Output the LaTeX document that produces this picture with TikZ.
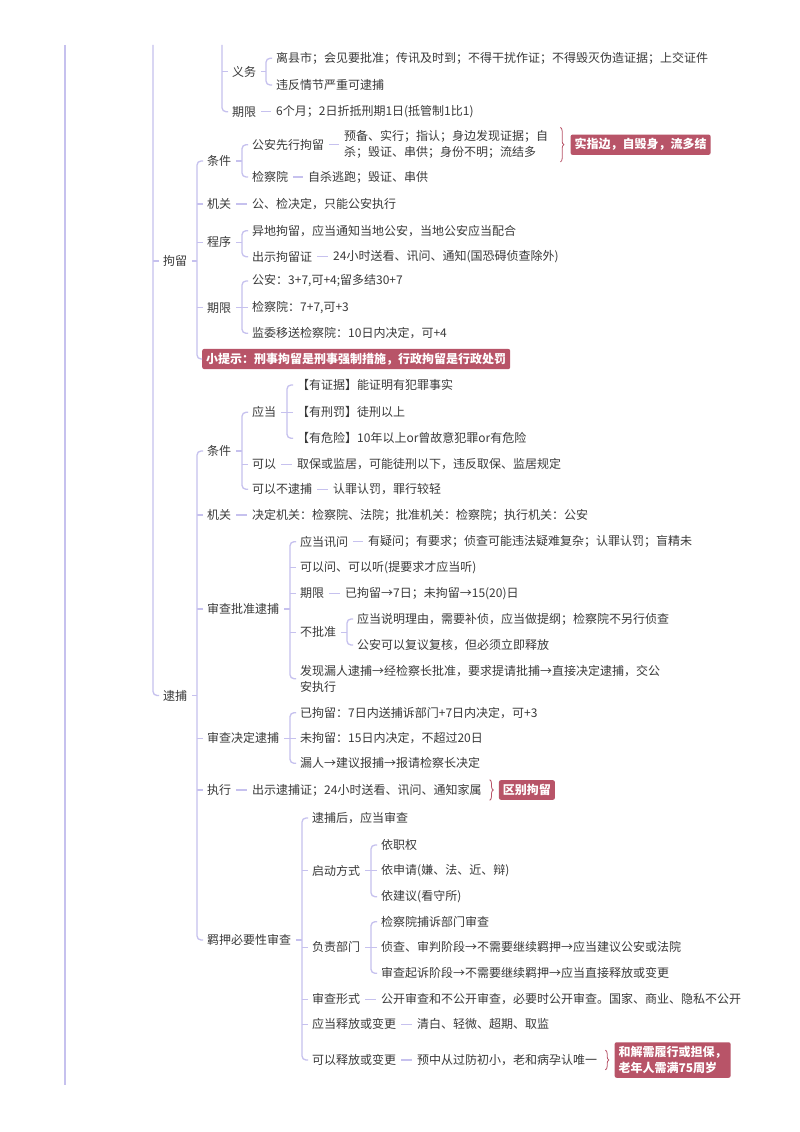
\documentclass[tikz,border=0pt]{standalone}
\usepackage{fontspec}
\setmainfont{Noto Sans CJK SC}
\usetikzlibrary{decorations.pathreplacing}
\definecolor{lnc}{HTML}{C6C1EE}
\definecolor{txc}{HTML}{3A3A3A}
\definecolor{rose}{HTML}{B85468}
\newcommand\fs{\fontsize{12pt}{16pt}\selectfont}
\newcommand\brk[3]{%
 \draw[conn] ([xshift=5pt]#1.east) -- ([xshift=-10pt]#2.west |- #1.east);
 \draw[conn,rounded corners=4pt] ([xshift=-4pt]#2.west) -- ([xshift=-10pt]#2.west) -- ([xshift=-10pt]#2.west |- #3.west) -- ([xshift=-4pt]#3.west);}
\newcommand\mtk[2]{\draw[conn] ([xshift=-4pt]#2.west) -- ([xshift=-10pt]#1.west |- #2.west);}
\newcommand\sgl[2]{\draw[conn] ([xshift=5pt]#1.east) -- ([xshift=-5pt]#2.west |- #1.east);}
\begin{document}
\begin{tikzpicture}[x=1pt,y=-1pt,
 conn/.style={draw=lnc,line width=1.3pt},
 lbl/.style={anchor=west,inner sep=0pt,text=txc,font=\fs,align=left},
 hl/.style={anchor=west,fill=rose,text=white,font=\fs\bfseries,rounded corners=2pt,inner xsep=4pt,inner ysep=4pt,align=left},
 brc/.style={draw=rose,line width=0.8pt,decorate,decoration={brace,amplitude=3.5pt}}]
\path[fill=white] (0,0) rectangle (800,1132);
\useasboundingbox (0,0) rectangle (800,1132);

% ---------- top part ----------
\node[lbl] (yw) at (232,71.7) {义务};
\node[lbl] (yw1) at (276,58.3) {离县市；会见要批准；传讯及时到；不得干扰作证；不得毁灭伪造证据；上交证件};
\node[lbl] (yw2) at (276,85) {违反情节严重可逮捕};
\node[lbl] (qx0) at (232,111.7) {期限};
\node[lbl] (qx0c) at (276,111.7) {6个月；2日折抵刑期1日(抵管制1比1)};

% ---------- 拘留 ----------
\node[lbl] (jl) at (163,261) {拘留};
\node[lbl] (jtj) at (207,161) {条件};
\node[lbl] (gaxx) at (252,144.7) {公安先行拘留};
\node[lbl] (gaxxc) at (344,144.7) {预备、实行；指认；身边发现证据；自\\杀；毁证、串供；身份不明；流结多};
\node[lbl] (jcy) at (252,177) {检察院};
\node[lbl] (jcyc) at (308,177) {自杀逃跑；毁证、串供};
\node[lbl] (jjg) at (207,204) {机关};
\node[lbl] (jjgc) at (252,204) {公、检决定，只能公安执行};
\node[lbl] (jcx) at (207,242.3) {程序};
\node[lbl] (cx1) at (252,230.7) {异地拘留，应当通知当地公安，当地公安应当配合};
\node[lbl] (cx2) at (252,256.7) {出示拘留证};
\node[lbl] (cx2c) at (333,256.7) {24小时送看、讯问、通知(国恐碍侦查除外)};
\node[lbl] (jqx) at (207,307.7) {期限};
\node[lbl] (qx1) at (252,281) {公安：3+7,可+4;留多结30+7};
\node[lbl] (qx2) at (252,307.7) {检察院：7+7,可+3};
\node[lbl] (qx3) at (252,333.3) {监委移送检察院：10日内决定，可+4};
\node[hl] (tip) at (202,359) {小提示：刑事拘留是刑事强制措施，行政拘留是行政处罚};

% ---------- 逮捕 ----------
\node[lbl] (db) at (163,695.5) {逮捕};
\node[lbl] (dtj) at (207,451) {条件};
\node[lbl] (yd) at (252,412.3) {应当};
\node[lbl] (yd1) at (297,385) {【有证据】能证明有犯罪事实};
\node[lbl] (yd2) at (297,412.3) {【有刑罚】徒刑以上};
\node[lbl] (yd3) at (297,438.3) {【有危险】10年以上or曾故意犯罪or有危险};
\node[lbl] (ky) at (252,464.3) {可以};
\node[lbl] (kyc) at (297,464.3) {取保或监居，可能徒刑以下，违反取保、监居规定};
\node[lbl] (kbd) at (252,489.3) {可以不逮捕};
\node[lbl] (kbdc) at (333,489.3) {认罪认罚，罪行较轻};
\node[lbl] (djg) at (207,515) {机关};
\node[lbl] (djgc) at (252,515) {决定机关：检察院、法院；批准机关：检察院；执行机关：公安};
\node[lbl] (scpz) at (207,609) {审查批准逮捕};
\node[lbl] (ydxw) at (300,541.7) {应当讯问};
\node[lbl] (ydxwc) at (368,541.7) {有疑问；有要求；侦查可能违法疑难复杂；认罪认罚；盲精未};
\node[lbl] (kyw) at (300,567.7) {可以问、可以听(提要求才应当听)};
\node[lbl] (pqx) at (300,593.3) {期限};
\node[lbl] (pqxc) at (345,593.3) {已拘留→7日；未拘留→15(20)日};
\node[lbl] (bpz) at (300,632.3) {不批准};
\node[lbl] (bpz1) at (357,619) {应当说明理由，需要补侦，应当做提纲；检察院不另行侦查};
\node[lbl] (bpz2) at (357,645) {公安可以复议复核，但必须立即释放};
\node[lbl] (fxlr) at (300,678.7) {发现漏人逮捕→经检察长批准，要求提请批捕→直接决定逮捕，交公\\安执行};
\node[lbl] (scjd) at (207,738.3) {审查决定逮捕};
\node[lbl] (jd1) at (300,712.7) {已拘留：7日内送捕诉部门+7日内决定，可+3};
\node[lbl] (jd2) at (300,738.3) {未拘留：15日内决定，不超过20日};
\node[lbl] (jd3) at (300,763.3) {漏人→建议报捕→报请检察长决定};
\node[lbl] (zx) at (207,790) {执行};
\node[lbl] (zxc) at (252,790) {出示逮捕证；24小时送看、讯问、通知家属};
\node[lbl] (jy) at (207,940) {羁押必要性审查};
\node[lbl] (jy1) at (312,818) {逮捕后，应当审查};
\node[lbl] (qdfs) at (312,870.7) {启动方式};
\node[lbl] (qd1) at (381,845) {依职权};
\node[lbl] (qd2) at (381,870.7) {依申请(嫌、法、近、辩)};
\node[lbl] (qd3) at (381,896.7) {依建议(看守所)};
\node[lbl] (fzbm) at (312,947.3) {负责部门};
\node[lbl] (fz1) at (381,921.7) {检察院捕诉部门审查};
\node[lbl] (fz2) at (381,947.3) {侦查、审判阶段→不需要继续羁押→应当建议公安或法院};
\node[lbl] (fz3) at (381,973.3) {审查起诉阶段→不需要继续羁押→应当直接释放或变更};
\node[lbl] (scxs) at (312,999.3) {审查形式};
\node[lbl] (scxsc) at (381,999.3) {公开审查和不公开审查，必要时公开审查。国家、商业、隐私不公开};
\node[lbl] (ydsf) at (312,1024.3) {应当释放或变更};
\node[lbl] (ydsfc) at (417,1024.3) {清白、轻微、超期、取监};
\node[lbl] (kysf) at (312,1060) {可以释放或变更};
\node[lbl] (kysfc) at (417,1060) {预中从过防初小，老和病孕认唯一};

% ---------- highlight boxes with braces ----------
\draw[brc] ([xshift=12pt,yshift=3pt]gaxxc.north east) -- ([xshift=12pt,yshift=-3pt]gaxxc.south east);
\node[hl] (bx1) at ([xshift=22pt]gaxxc.east) {实指边，自毁身，流多结};
\draw[brc] ([xshift=8pt,yshift=4pt]zxc.north east) -- ([xshift=8pt,yshift=-4pt]zxc.south east);
\node[hl] (bx2) at ([xshift=17pt]zxc.east) {区别拘留};
\draw[brc] ([xshift=8pt,yshift=4pt]kysfc.north east) -- ([xshift=8pt,yshift=-4pt]kysfc.south east);
\node[hl] (bx3) at ([xshift=17pt]kysfc.east) {和解需履行或担保，\\老年人需满75周岁};

% ---------- connectors ----------
\coordinate (ta) at (65,45);
\coordinate (tb) at (65,1085);
\draw[conn] (ta) -- (tb);
\coordinate (tc) at (153,45);
\draw[conn,rounded corners=4pt] (tc) -- (tc |- db.west) -- ([xshift=-4pt]db.west);
\draw[conn] (tc |- jl.west) -- ([xshift=-4pt]jl.west);
\coordinate (td) at (222,45);
\draw[conn,rounded corners=4pt] (td) -- (td |- qx0.west) -- ([xshift=-4pt]qx0.west);
\draw[conn] (td |- yw.west) -- ([xshift=-4pt]yw.west);
\brk{yw}{yw1}{yw2}
\sgl{qx0}{qx0c}

% 拘留
\draw[conn] ([xshift=5pt]jl.east) -- ([xshift=-10pt]jtj.west |- jl.east);
\draw[conn,rounded corners=4pt] ([xshift=-4pt]jtj.west) -- ([xshift=-10pt]jtj.west) -- ([xshift=-10pt]jtj.west |- tip.west) -- (tip.west);
\mtk{jtj}{jjg}\mtk{jtj}{jcx}\mtk{jtj}{jqx}
\brk{jtj}{gaxx}{jcy}
\sgl{gaxx}{gaxxc}
\sgl{jcy}{jcyc}
\sgl{jjg}{jjgc}
\brk{jcx}{cx1}{cx2}
\sgl{cx2}{cx2c}
\brk{jqx}{qx1}{qx3}\mtk{qx1}{qx2}

% 逮捕
\brk{db}{dtj}{jy}
\mtk{dtj}{djg}\mtk{dtj}{scpz}\mtk{dtj}{scjd}\mtk{dtj}{zx}
\brk{dtj}{yd}{kbd}\mtk{yd}{ky}
\brk{yd}{yd1}{yd3}\mtk{yd1}{yd2}
\sgl{ky}{kyc}
\sgl{kbd}{kbdc}
\sgl{djg}{djgc}
\brk{scpz}{ydxw}{fxlr}\mtk{ydxw}{kyw}\mtk{ydxw}{pqx}\mtk{ydxw}{bpz}
\sgl{ydxw}{ydxwc}
\sgl{pqx}{pqxc}
\brk{bpz}{bpz1}{bpz2}
\brk{scjd}{jd1}{jd3}\mtk{jd1}{jd2}
\sgl{zx}{zxc}
\brk{jy}{jy1}{kysf}\mtk{jy1}{qdfs}\mtk{jy1}{fzbm}\mtk{jy1}{scxs}\mtk{jy1}{ydsf}
\brk{qdfs}{qd1}{qd3}\mtk{qd1}{qd2}
\brk{fzbm}{fz1}{fz3}\mtk{fz1}{fz2}
\sgl{scxs}{scxsc}
\sgl{ydsf}{ydsfc}
\sgl{kysf}{kysfc}
\end{tikzpicture}
\end{document}
